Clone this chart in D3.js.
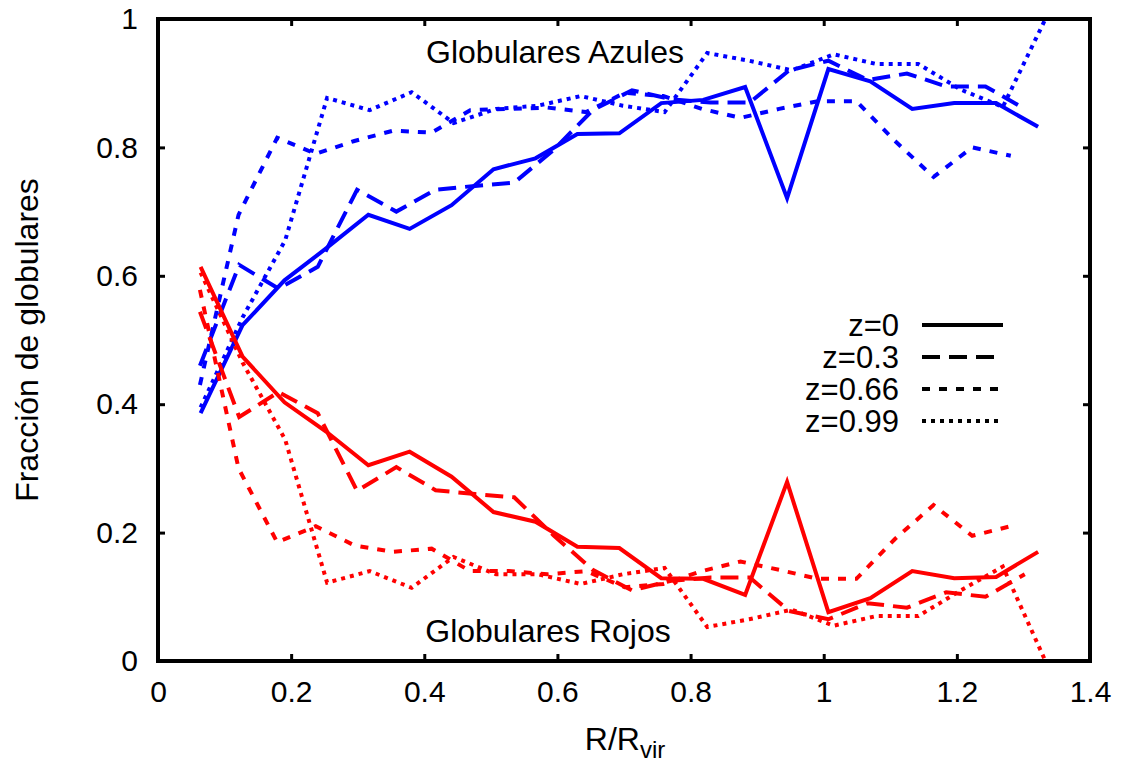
<!DOCTYPE html>
<html>
<head>
<meta charset="utf-8">
<script src="https://cdn.jsdelivr.net/npm/d3@7"></script>
<style>
  body { margin: 0; background: #fff; }
  text { font-family: "Liberation Sans", Arial, sans-serif; }
</style>
</head>
<body>
<svg width="1121" height="762"></svg>
<script>
// R/Rvir bins for each redshift
var xZ0 = [0.064, 0.127, 0.190, 0.253, 0.316, 0.378, 0.441, 0.504, 0.567, 0.630, 0.693,
           0.756, 0.819, 0.882, 0.945, 1.007, 1.070, 1.133, 1.196, 1.259, 1.322];
var xZ03 = [0.063, 0.122, 0.181, 0.240, 0.299, 0.358, 0.417, 0.476, 0.535, 0.594, 0.653,
            0.712, 0.771, 0.830, 0.889, 0.948, 1.007, 1.066, 1.125, 1.184, 1.243, 1.302];
var xZ066 = [0.063, 0.121, 0.179, 0.237, 0.295, 0.353, 0.411, 0.469, 0.527, 0.585, 0.643,
             0.701, 0.759, 0.817, 0.875, 0.933, 0.991, 1.049, 1.107, 1.165, 1.223, 1.281];
var xZ099 = [0.064, 0.127, 0.191, 0.254, 0.318, 0.381, 0.444, 0.508, 0.571, 0.635, 0.698,
             0.761, 0.825, 0.888, 0.952, 1.015, 1.079, 1.142, 1.206, 1.269, 1.333, 1.396];

// blue (azules) fractions
var azulZ0 = [0.386, 0.523, 0.593, 0.643, 0.695, 0.673, 0.710, 0.766, 0.783, 0.821, 0.822,
              0.869, 0.874, 0.894, 0.721, 0.922, 0.903, 0.860, 0.869, 0.869, 0.832];
var azulZ03 = [0.460, 0.617, 0.580, 0.614, 0.734, 0.700, 0.734, 0.740, 0.745, 0.796, 0.858,
               0.889, 0.875, 0.870, 0.870, 0.920, 0.935, 0.905, 0.915, 0.895, 0.895, 0.860];
var azulZ066 = [0.430, 0.695, 0.815, 0.790, 0.810, 0.826, 0.823, 0.858, 0.860, 0.862, 0.855,
                0.885, 0.880, 0.860, 0.846, 0.860, 0.872, 0.872, 0.810, 0.754, 0.800, 0.787];
var azulZ099 = [0.395, 0.535, 0.655, 0.877, 0.858, 0.886, 0.838, 0.860, 0.865, 0.880, 0.865,
                0.855, 0.947, 0.935, 0.920, 0.945, 0.930, 0.930, 0.890, 0.863, 1.000, 1.000];

// red (rojos) fractions
var rojoZ0 = [0.614, 0.474, 0.403, 0.357, 0.305, 0.326, 0.287, 0.232, 0.217, 0.178, 0.176,
              0.129, 0.128, 0.103, 0.279, 0.076, 0.098, 0.140, 0.129, 0.131, 0.170];
var rojoZ03 = [0.544, 0.380, 0.419, 0.386, 0.265, 0.302, 0.266, 0.260, 0.255, 0.196, 0.142,
               0.110, 0.125, 0.130, 0.130, 0.078, 0.065, 0.090, 0.083, 0.107, 0.100, 0.135];
var rojoZ066 = [0.578, 0.300, 0.185, 0.210, 0.180, 0.170, 0.175, 0.140, 0.140, 0.135, 0.140,
                0.115, 0.120, 0.140, 0.155, 0.142, 0.128, 0.128, 0.190, 0.243, 0.195, 0.210];
var rojoZ099 = [0.605, 0.465, 0.345, 0.122, 0.140, 0.114, 0.162, 0.135, 0.135, 0.120, 0.135,
                0.145, 0.053, 0.065, 0.080, 0.055, 0.070, 0.070, 0.110, 0.147, 0.000, 0.000];

var labels = ["z=0", "z=0.3", "z=0.66", "z=0.99"];
var xTicks = [0, 0.2, 0.4, 0.6, 0.8, 1, 1.2, 1.4];
var yTicks = [0, 0.2, 0.4, 0.6, 0.8, 1];

var dashes = ["none", "18,9", "8,9", "4,5"];
var xs = [xZ0, xZ03, xZ066, xZ099];
var azul = [azulZ0, azulZ03, azulZ066, azulZ099];
var rojo = [rojoZ0, rojoZ03, rojoZ066, rojoZ099];

var mLeft = 158, mRight = 1090, mTop = 19, mBottom = 661;
var svg = d3.select("svg");

var x = d3.scaleLinear().domain([0, 1.4]).range([mLeft, mRight]);
var y = d3.scaleLinear().domain([0, 1]).range([mBottom, mTop]);

svg.append("clipPath").attr("id", "clip")
  .append("rect").attr("x", mLeft).attr("y", mTop)
  .attr("width", mRight - mLeft).attr("height", mBottom - mTop);

var line = d3.line()
  .x(function(d) { return x(d[0]); })
  .y(function(d) { return y(d[1]); });

var plot = svg.append("g").attr("clip-path", "url(#clip)");

[["#0000ff", azul], ["#ff0000", rojo]].forEach(function(c) {
  labels.forEach(function(l, i) {
    var pts = xs[i].map(function(v, j) { return [v, c[1][i][j]]; });
    plot.append("path")
      .attr("d", line(pts))
      .attr("fill", "none")
      .attr("stroke", c[0])
      .attr("stroke-width", 4)
      .attr("stroke-dasharray", dashes[i])
      .attr("stroke-linejoin", "miter");
  });
});

// axes with inward ticks
var fmt = d3.format("~g");
function styleAxis(g) {
  g.select(".domain").remove();
  g.selectAll(".tick line").attr("stroke", "#000").attr("stroke-width", 3);
  g.selectAll("text").attr("font-size", 30).attr("fill", "#000")
    .attr("font-family", "Liberation Sans, Arial, sans-serif");
}
svg.append("g").attr("transform", "translate(0," + mBottom + ")")
  .call(d3.axisBottom(x).tickValues(xTicks).tickFormat(fmt).tickSizeInner(-7).tickSizeOuter(0).tickPadding(20))
  .call(styleAxis);
svg.append("g").attr("transform", "translate(0," + mTop + ")")
  .call(d3.axisTop(x).tickValues(xTicks).tickFormat("").tickSizeInner(-7).tickSizeOuter(0))
  .call(styleAxis);
svg.append("g").attr("transform", "translate(" + mLeft + ",0)")
  .call(d3.axisLeft(y).tickValues(yTicks).tickFormat(fmt).tickSizeInner(-7).tickSizeOuter(0).tickPadding(20))
  .call(styleAxis);
svg.append("g").attr("transform", "translate(" + mRight + ",0)")
  .call(d3.axisRight(y).tickValues(yTicks).tickFormat("").tickSizeInner(-7).tickSizeOuter(0))
  .call(styleAxis);

svg.append("rect")
  .attr("x", mLeft).attr("y", mTop)
  .attr("width", mRight - mLeft).attr("height", mBottom - mTop)
  .attr("fill", "none").attr("stroke", "#000").attr("stroke-width", 4);

// annotations
svg.append("text").attr("x", 555).attr("y", 63).attr("text-anchor", "middle")
  .attr("font-size", 32).text("Globulares Azules");
svg.append("text").attr("x", 548).attr("y", 642).attr("text-anchor", "middle")
  .attr("font-size", 32).text("Globulares Rojos");

// legend
var legend = svg.append("g");
labels.forEach(function(l, i) {
  var ly = 325 + i * 32;
  legend.append("text").attr("x", 899).attr("y", ly).attr("dy", "0.36em")
    .attr("text-anchor", "end").attr("font-size", 31).text(l);
  legend.append("line").attr("x1", 922).attr("x2", 1003)
    .attr("y1", ly).attr("y2", ly)
    .attr("stroke", "#000").attr("stroke-width", 4)
    .attr("stroke-dasharray", dashes[i]);
});

// axis titles
svg.append("text")
  .attr("transform", "translate(38,340) rotate(-90)")
  .attr("text-anchor", "middle").attr("font-size", 32)
  .text("Fracción de globulares");
var xl = svg.append("text").attr("x", 625).attr("y", 750)
  .attr("text-anchor", "middle").attr("font-size", 32);
xl.append("tspan").text("R/R");
xl.append("tspan").attr("font-size", 24).attr("dy", 8).text("vir");
</script>
</body>
</html>
